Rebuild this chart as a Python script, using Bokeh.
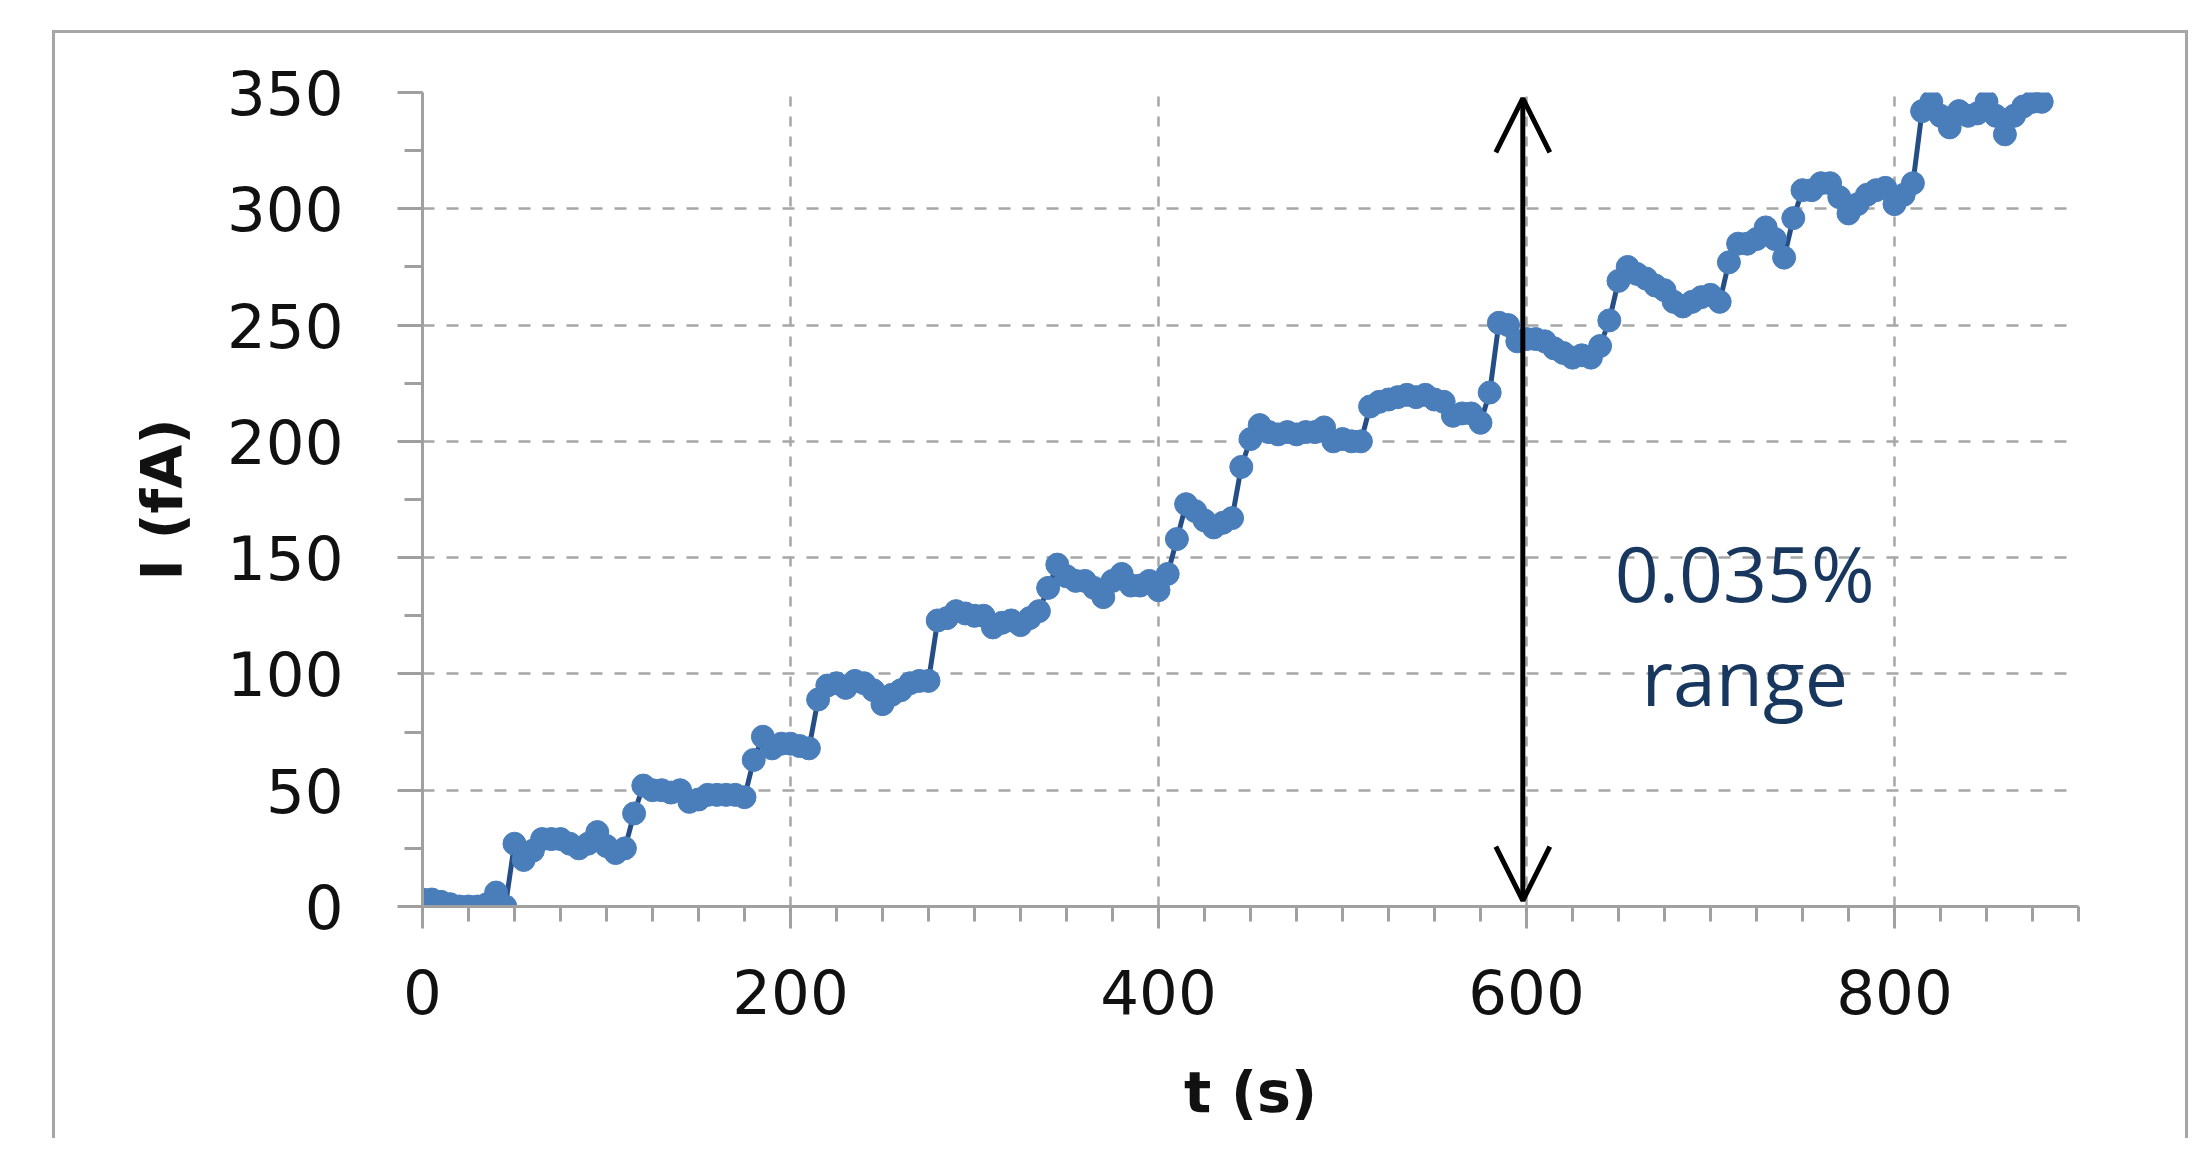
from bokeh.plotting import figure
from bokeh.models import Range1d, SingleIntervalTicker, Arrow, OpenHead, ColumnDataSource
from bokeh.core.properties import value
from bokeh.embed import file_html
from bokeh.resources import INLINE

# ---- data ----
t_s = [0, 5, 10, 15, 20, 25, 30, 35, 40, 45, 50, 55, 60, 65, 70, 75, 80, 85, 90, 95,
       100, 105, 110, 115, 120, 125, 130, 135, 140, 145, 150, 155, 160, 165, 170, 175,
       180, 185, 190, 195, 200, 205, 210, 215, 220, 225, 230, 235, 240, 245, 250, 255,
       260, 265, 270, 275, 280, 285, 290, 295, 300, 305, 310, 315, 320, 325, 330, 335,
       340, 345, 350, 355, 360, 365, 370, 375, 380, 385, 390, 395, 400, 405, 410, 415,
       420, 425, 430, 435, 440, 445, 450, 455, 460, 465, 470, 475, 480, 485, 490, 495,
       500, 505, 510, 515, 520, 525, 530, 535, 540, 545, 550, 555, 560, 565, 570, 575,
       580, 585, 590, 595, 600, 605, 610, 615, 620, 625, 630, 635, 640, 645, 650, 655,
       660, 665, 670, 675, 680, 685, 690, 695, 700, 705, 710, 715, 720, 725, 730, 735,
       740, 745, 750, 755, 760, 765, 770, 775, 780, 785, 790, 795, 800, 805, 810, 815,
       820, 825, 830, 835, 840, 845, 850, 855, 860, 865, 870, 875, 880]
i_fA = [3, 3, 2, 1, 0, 0, 0, 1, 6, 0, 27, 20, 24, 29, 29, 29, 27, 25, 27, 32,
        26, 23, 25, 40, 52, 50, 50, 49, 50, 45, 46, 48, 48, 48, 48, 47,
        63, 73, 68, 70, 70, 69, 68, 89, 95, 96, 94, 97, 96, 93, 87, 91,
        93, 96, 97, 97, 123, 124, 127, 126, 125, 125, 120, 122, 123, 121, 124, 127,
        137, 147, 142, 140, 140, 137, 133, 140, 143, 138, 138, 140, 136, 143, 158, 173,
        170, 166, 163, 165, 167, 189, 201, 207, 204, 203, 204, 203, 204, 204, 206, 200,
        201, 200, 200, 215, 217, 218, 219, 220, 219, 220, 218, 217, 211, 212, 212, 208,
        221, 251, 250, 243, 244, 244, 243, 240, 238, 236, 237, 236, 241, 252, 269, 275,
        272, 270, 267, 265, 260, 258, 260, 262, 263, 260, 277, 285, 285, 287, 292, 287,
        279, 296, 308, 308, 311, 311, 305, 298, 302, 306, 308, 309, 302, 306, 311, 342,
        346, 340, 335, 342, 340, 341, 346, 340, 332, 340, 344, 346, 346]

x_label = "t (s)"
y_label = "I (fA)"
note_lines = ["0.035%", "range"]
note_x = [718.6, 718.6]
note_y = [143.6, 98.8]
arrow_x = 598
arrow_y0 = 2.5
arrow_y1 = 347.5

GRID = "#A6A6A6"
AXIS = "#A0A0A0"

p = figure(width=2136, height=1108,
           x_range=Range1d(0, 900), y_range=Range1d(0, 350),
           output_backend="svg", toolbar_location=None,
           min_border_left=367, min_border_top=59,
           min_border_right=113, min_border_bottom=235)
p.outline_line_color = None
p.background_fill_color = "white"
p.border_fill_color = "white"
p.styles = {"margin-left": "52px", "margin-top": "30px",
            "border-top": "3px solid #A6A6A6",
            "border-left": "3px solid #A6A6A6",
            "border-right": "3px solid #A6A6A6"}

p.xaxis.ticker = SingleIntervalTicker(interval=200, num_minor_ticks=8)
p.yaxis.ticker = SingleIntervalTicker(interval=50, num_minor_ticks=2)

for ax in (p.xaxis, p.yaxis):
    ax.axis_line_color = AXIS
    ax.axis_line_width = 3
    ax.major_tick_line_color = AXIS
    ax.major_tick_line_width = 3
    ax.minor_tick_line_color = AXIS
    ax.minor_tick_line_width = 3
    ax.major_tick_in = 0
    ax.minor_tick_in = 0
    ax.major_label_text_font = "DejaVu Sans"
    ax.major_label_text_font_size = "61px"
    ax.major_label_text_color = "#111111"
    ax.axis_label_text_font = "DejaVu Sans"
    ax.axis_label_text_font_size = "57px"
    ax.axis_label_text_font_style = "bold"
    ax.axis_label_text_color = "#111111"

p.xaxis.major_tick_out = 22
p.xaxis.minor_tick_out = 15
p.xaxis.major_label_standoff = 40
p.xaxis.axis_label = x_label
p.xaxis.axis_label_standoff = 42

p.yaxis.major_tick_out = 25
p.yaxis.minor_tick_out = 18
p.yaxis.major_label_standoff = 54
p.yaxis.axis_label = y_label
p.yaxis.axis_label_standoff = 29

p.xgrid.grid_line_color = GRID
p.xgrid.grid_line_width = 2.5
p.xgrid.grid_line_dash = "10 10"
p.ygrid.grid_line_color = GRID
p.ygrid.grid_line_width = 2.5
p.ygrid.grid_line_dash = "12 12"

src = ColumnDataSource(dict(t=t_s, i=i_fA))
p.line("t", "i", source=src, line_color="#254E86", line_width=5)
p.scatter("t", "i", source=src, size=23, fill_color="#4A7EBB", line_color="#4A7EBB")

p.add_layout(Arrow(start=OpenHead(size=54, line_width=5, line_color="black"),
                   end=OpenHead(size=54, line_width=5, line_color="black"),
                   x_start=arrow_x, y_start=arrow_y0, x_end=arrow_x, y_end=arrow_y1,
                   line_width=5, line_color="black"))

p.text(x=note_x, y=note_y, text=note_lines, text_font=value("Open Sans"),
       text_font_size="77px", text_color="#17375E", text_align="center",
       text_baseline="alphabetic")

open("out.html", "w").write(file_html(p, INLINE))
